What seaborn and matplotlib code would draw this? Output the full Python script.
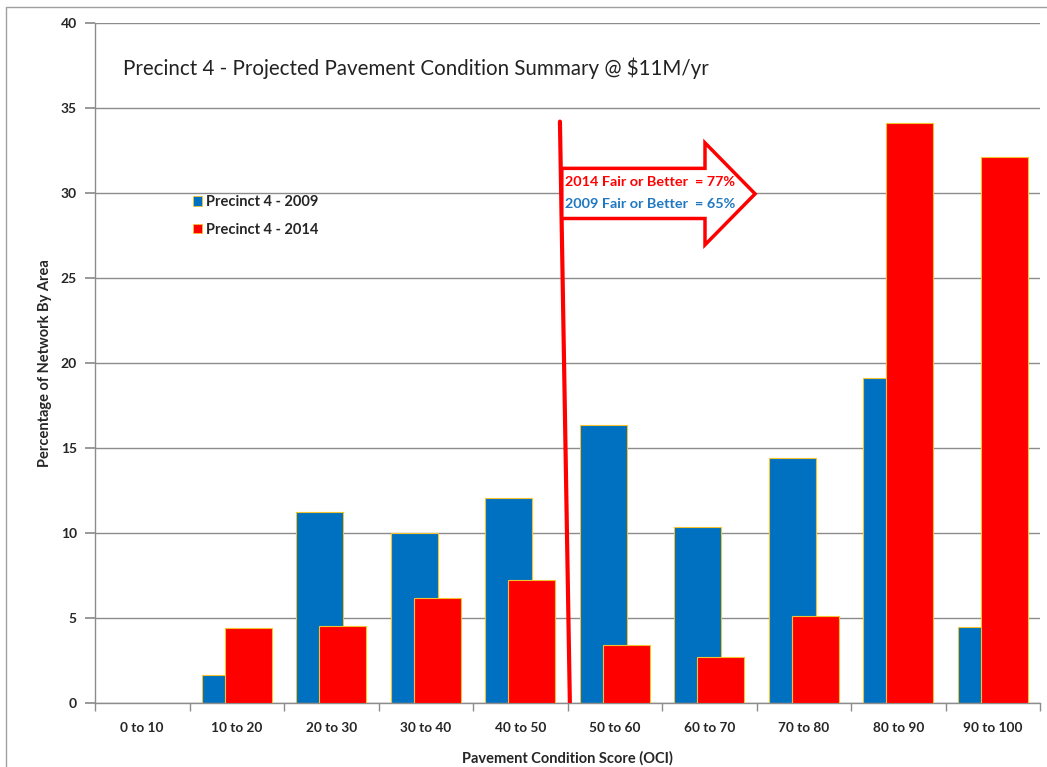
import matplotlib
matplotlib.use("Agg")
import matplotlib.pyplot as plt
import seaborn as sns
import pandas as pd
import numpy as np
from matplotlib.patches import Polygon, Patch
from matplotlib.lines import Line2D

categories = ["0 to 10", "10 to 20", "20 to 30", "30 to 40", "40 to 50",
              "50 to 60", "60 to 70", "70 to 80", "80 to 90", "90 to 100"]
values_2009 = [0, 1.65, 11.25, 10.0, 12.05, 16.35, 10.35, 14.4, 19.1, 4.45]
values_2014 = [0, 4.4, 4.55, 6.2, 7.25, 3.4, 2.7, 5.1, 34.1, 32.1]
series_names = ["Precinct 4 - 2009", "Precinct 4 - 2014"]
yticks = [0, 5, 10, 15, 20, 25, 30, 35, 40]

title = "Precinct 4 - Projected Pavement Condition Summary @ $11M/yr"
note_2014 = "2014 Fair or Better  = 77%"
note_2009 = "2009 Fair or Better  = 65%"

BLUE = "#0070C0"
RED = "#FF0000"
EDGE = "#F2C230"
GRID = "#8C8C8C"

sns.set_theme(style="white")
plt.rcParams['font.family'] = ['Lato', 'DejaVu Sans']

fig = plt.figure(figsize=(10.47, 7.67), dpi=100)
ax = fig.add_axes([95/1047, 1 - 703/767, (1040-95)/1047, (703-23)/767])

df09 = pd.DataFrame({"cat": categories, "val": values_2009})
df14 = pd.DataFrame({"cat": categories, "val": values_2014})

offset = 0.122
sns.barplot(data=df09, x="cat", y="val", order=categories, color=BLUE,
            width=0.5, edgecolor=EDGE, linewidth=0.8, saturation=1, ax=ax, zorder=2)
n_before = len(ax.patches)
for p in ax.patches:
    p.set_x(p.get_x() - offset)
sns.barplot(data=df14, x="cat", y="val", order=categories, color=RED,
            width=0.5, edgecolor=EDGE, linewidth=0.8, saturation=1, ax=ax, zorder=3)
for p in ax.patches[n_before:]:
    p.set_x(p.get_x() + offset)
for p in ax.patches:
    if p.get_height() == 0:
        p.set_linewidth(0)

ax.set_xlim(-0.5, 9.5)
ax.set_ylim(0, 40)
ax.set_yticks(yticks)
ax.set_yticklabels([str(v) for v in yticks], fontweight="bold", fontsize=10)
ax.yaxis.grid(True, color=GRID, linewidth=1)
ax.set_axisbelow(True)

ax.set_xticks(range(len(categories)))
ax.set_xticklabels(categories, fontweight="bold", fontsize=9.8)
ax.set_xticks(np.arange(-0.5, 10, 1), minor=True)
ax.tick_params(axis="x", which="major", length=0, pad=14)
ax.tick_params(axis="x", which="minor", length=6, color=GRID, direction="out", bottom=True)
ax.tick_params(axis="y", length=7, color=GRID, direction="out", left=True, pad=6)

for s in ["top", "right"]:
    ax.spines[s].set_visible(False)
for s in ["left", "bottom"]:
    ax.spines[s].set_color(GRID)
    ax.spines[s].set_linewidth(1)

ax.set_xlabel("Pavement Condition Score (OCI)", fontweight="bold", fontsize=10.5, labelpad=12)
ax.xaxis.set_label_coords(0.5, -(758 - 703) / (703 - 23), transform=ax.transAxes)
ax.xaxis.label.set_va("center")
ax.set_ylabel("Percentage of Network By Area", fontweight="bold", fontsize=10.5)
ax.yaxis.set_label_coords(-(95 - 45) / (1040 - 95), 0.5, transform=ax.transAxes)
ax.yaxis.label.set_va("center")

# Title inside plot area
ax.text(123/1047, 1 - 68/767, title, transform=fig.transFigure, fontsize=14.8,
        color="#222222", ha="left", va="center")

# Red divider line
ax.add_line(Line2D([4.42, 4.525], [34.2, 0], color=RED, linewidth=3, zorder=5))

# Block arrow
arrow_pts = [(4.44, 31.45), (5.955, 31.45), (5.955, 32.95), (6.485, 29.95),
             (5.955, 26.95), (5.955, 28.5), (4.44, 28.5)]
ax.add_patch(Polygon(arrow_pts, closed=True, facecolor="white", edgecolor=RED,
                     linewidth=2.5, zorder=6))
ax.text(4.47, 30.65, note_2014, color=RED, fontweight="bold", fontsize=10.4,
        ha="left", va="center", zorder=7)
ax.text(4.47, 29.35, note_2009, color="#1F78C1", fontweight="bold", fontsize=10.4,
        ha="left", va="center", zorder=7)

# Legend
handles = [Patch(facecolor=BLUE, edgecolor=EDGE, linewidth=0.6),
           Patch(facecolor=RED, edgecolor=EDGE, linewidth=0.6)]
leg = fig.legend(handles, series_names, loc="upper left",
                 bbox_to_anchor=(180/1047, 1 - 182/767), frameon=False,
                 handlelength=0.6, handleheight=0.6, handletextpad=0.3,
                 labelspacing=0.95, prop={"weight": "bold", "size": 10.5})

# Figure border
fig.add_artist(Line2D([6/1047, 6/1047], [0, 1 - 7/767], transform=fig.transFigure,
                      color="#A0A0A0", linewidth=1))
fig.add_artist(Line2D([6/1047, 1], [1 - 7/767, 1 - 7/767], transform=fig.transFigure,
                      color="#A0A0A0", linewidth=1))

fig.savefig("out.png", dpi=100)
